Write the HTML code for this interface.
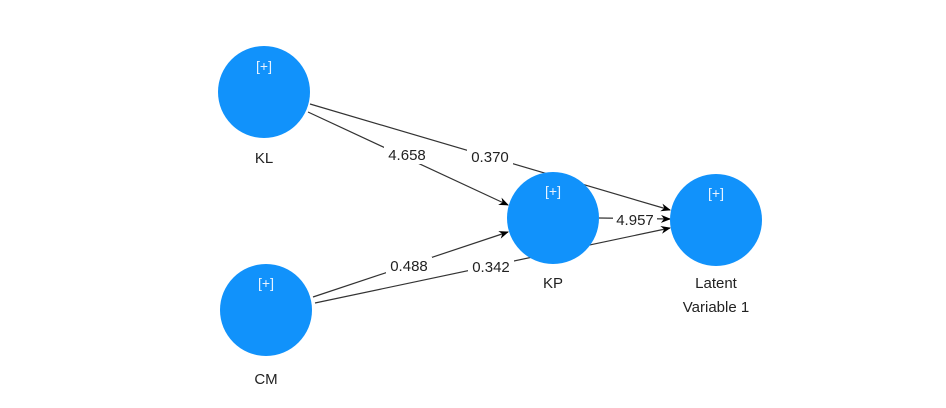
<!DOCTYPE html>
<html><head><style>
html,body{margin:0;padding:0;background:#fff;}
svg text{font-family:"Liberation Sans","DejaVu Sans",sans-serif;}
</style></head><body>
<svg width="946" height="403" viewBox="0 0 946 403" xmlns="http://www.w3.org/2000/svg">
<defs><marker id="a" markerWidth="10" markerHeight="8" refX="9" refY="4" orient="auto" markerUnits="userSpaceOnUse"><path d="M0,0 L10,4 L0,8 L3,4 z" fill="#000"/></marker></defs>
<g stroke="#333" stroke-width="1.2" fill="none">
<line x1="308" y1="112" x2="508" y2="205" marker-end="url(#a)"/>
<line x1="310" y1="104" x2="670" y2="210" marker-end="url(#a)"/>
<line x1="313" y1="297" x2="508" y2="232" marker-end="url(#a)"/>
<line x1="315" y1="303" x2="670" y2="228" marker-end="url(#a)"/>
<line x1="599" y1="218" x2="670" y2="219" marker-end="url(#a)"/>
</g>
<g fill="#fff">
<rect x="384" y="146" width="46" height="18"/>
<rect x="467" y="148" width="46" height="18"/>
<rect x="386" y="257" width="46" height="18"/>
<rect x="468" y="258" width="46" height="18"/>
<rect x="613" y="211" width="44" height="18"/>
</g>
<g font-size="15" fill="#222" text-anchor="middle">
<text x="407" y="160">4.658</text>
<text x="490" y="162">0.370</text>
<text x="409" y="271">0.488</text>
<text x="491" y="272">0.342</text>
<text x="635" y="225">4.957</text>
</g>
<g fill="#1192fb">
<circle cx="264" cy="92" r="46"/>
<circle cx="266" cy="310" r="46"/>
<circle cx="553" cy="218" r="46"/>
<circle cx="716" cy="220" r="46"/>
</g>
<g font-size="14" fill="#e8f3ff" text-anchor="middle">
<text x="264" y="71">[+]</text>
<text x="266" y="288">[+]</text>
<text x="553" y="196">[+]</text>
<text x="716" y="198">[+]</text>
</g>
<g font-size="15" fill="#222" text-anchor="middle">
<text x="264" y="163">KL</text>
<text x="266" y="384">CM</text>
<text x="553" y="288">KP</text>
<text x="716" y="288">Latent</text>
<text x="716" y="312">Variable 1</text>
</g>
</svg>
</body></html>
